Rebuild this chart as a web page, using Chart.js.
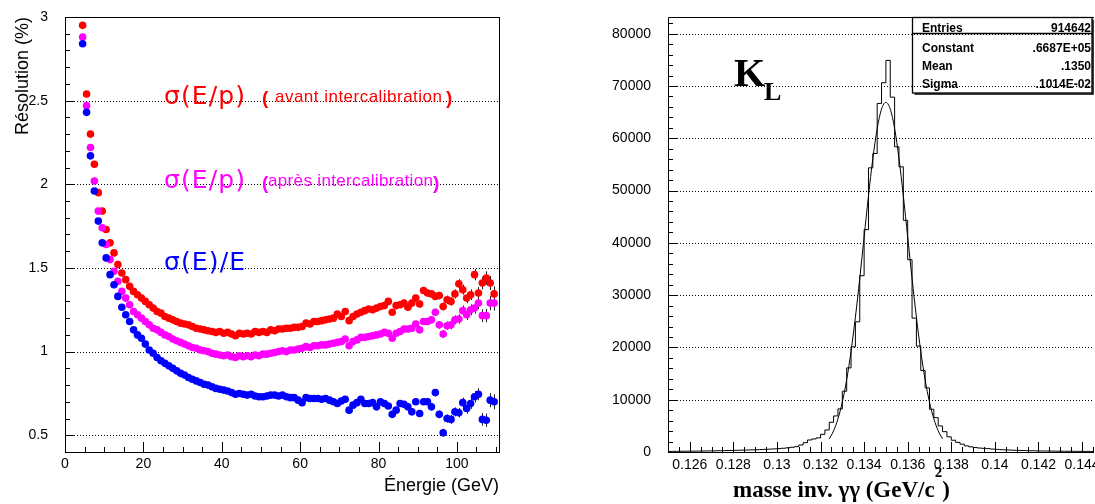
<!DOCTYPE html>
<html><head><meta charset="utf-8">
<script src="https://cdn.jsdelivr.net/npm/chart.js@4/dist/chart.umd.min.js"></script>
<style>
html,body{margin:0;padding:0;background:#fff;}
#wrap{position:relative;width:1095px;height:504px;overflow:hidden;background:#fff;}
canvas{position:absolute;top:0;}
#c1{left:0;} #c2{left:545px;}
</style></head><body>
<div id="wrap"><canvas id="c1" width="545" height="504"></canvas><canvas id="c2" width="550" height="504"></canvas></div>
<script>
// ---------- Left panel data ----------
const energies = [
 4.5,5.5,6.5,7.5,8.5,9.5,10.5,11.5,12.5,13.5,
 14.5,15.5,16.5,17.5,18.5,19.5,20.5,21.5,22.5,23.5,
 24.5,25.5,26.5,27.5,28.5,29.5,30.5,31.5,32.5,33.5,
 34.5,35.5,36.5,37.5,38.5,39.5,40.5,41.5,42.5,43.5,
 44.5,45.5,46.5,47.5,48.5,49.5,50.5,51.5,52.5,53.5,
 54.5,55.5,56.5,57.5,58.5,59.5,60.5,61.5,62.5,63.5,
 64.5,65.5,66.5,67.5,68.5,69.5,70.5,71.5,72.5,73.5,
 74.5,75.5,76.5,77.5,78.5,79.5,80.5,81.5,82.5,83.5,
 84.5,85.5,86.5,87.5,88.5,89.5,90.5,91.5,92.5,93.5,
 94.5,95.5,96.5,97.5,98.5,99.5,100.5,101.5,102.5,103.5,
 104.5,105.5,106.5,107.5,108.5,109.5];
const resAvant = [
 2.95,2.54,2.30,2.12,1.95,1.84,1.73,1.65,1.59,1.52,
 1.47,1.43,1.39,1.36,1.34,1.32,1.30,1.28,1.26,1.24,
 1.23,1.21,1.20,1.19,1.18,1.17,1.165,1.16,1.15,1.14,
 1.135,1.13,1.125,1.12,1.115,1.12,1.11,1.115,1.105,1.095,
 1.11,1.105,1.11,1.105,1.12,1.115,1.12,1.115,1.13,1.125,
 1.135,1.135,1.14,1.14,1.145,1.145,1.15,1.17,1.165,1.18,
 1.18,1.185,1.19,1.195,1.20,1.225,1.21,1.24,1.185,1.21,
 1.225,1.235,1.245,1.255,1.25,1.26,1.27,1.275,1.30,1.235,
 1.275,1.28,1.29,1.265,1.29,1.32,1.285,1.365,1.35,1.345,
 1.33,1.335,1.27,1.31,1.30,1.345,1.405,1.37,1.32,1.34,
 1.46,1.35,1.41,1.44,1.41,1.345];
const resApres = [
 2.88,2.47,2.22,2.02,1.84,1.74,1.64,1.55,1.48,1.42,
 1.36,1.32,1.28,1.24,1.22,1.20,1.18,1.16,1.14,1.13,
 1.115,1.10,1.09,1.075,1.065,1.055,1.045,1.035,1.025,1.02,
 1.01,1.005,1.00,0.99,0.985,0.98,0.975,0.98,0.97,0.965,
 0.975,0.97,0.975,0.97,0.98,0.975,0.985,0.985,0.99,0.995,
 1.00,1.005,1.00,1.01,1.01,1.015,1.02,1.03,1.025,1.035,
 1.035,1.04,1.04,1.045,1.05,1.055,1.06,1.075,1.035,1.06,
 1.07,1.085,1.085,1.09,1.095,1.10,1.105,1.115,1.11,1.08,
 1.11,1.12,1.135,1.135,1.14,1.165,1.13,1.18,1.18,1.19,
 1.235,1.16,1.105,1.155,1.16,1.19,1.195,1.245,1.22,1.25,
 1.26,1.29,1.215,1.215,1.29,1.29];
const resEnergie = [
 2.84,2.43,2.17,1.96,1.78,1.65,1.56,1.46,1.40,1.33,
 1.265,1.22,1.18,1.13,1.10,1.08,1.045,1.01,0.99,0.965,
 0.945,0.93,0.915,0.90,0.885,0.87,0.86,0.845,0.835,0.825,
 0.815,0.805,0.80,0.79,0.78,0.775,0.77,0.765,0.755,0.745,
 0.75,0.745,0.74,0.745,0.735,0.73,0.73,0.735,0.74,0.74,
 0.735,0.74,0.73,0.725,0.725,0.71,0.695,0.725,0.72,0.72,
 0.72,0.715,0.72,0.71,0.70,0.69,0.705,0.715,0.65,0.68,
 0.695,0.715,0.69,0.69,0.695,0.67,0.70,0.69,0.675,0.625,
 0.65,0.69,0.685,0.67,0.64,0.70,0.63,0.70,0.70,0.67,
 0.755,0.625,0.515,0.60,0.595,0.64,0.635,0.695,0.66,0.69,
 0.73,0.745,0.595,0.59,0.71,0.70];
const resError = [
 0.01,0.01,0.01,0.01,0.01,0.01,0.01,0.01,0.01,0.01,
 0.01,0.01,0.01,0.01,0.01,0.01,0.01,0.01,0.01,0.01,
 0.01,0.01,0.01,0.01,0.01,0.01,0.01,0.01,0.01,0.01,
 0.01,0.01,0.01,0.01,0.01,0.01,0.01,0.01,0.01,0.01,
 0.012,0.012,0.012,0.012,0.012,0.012,0.012,0.012,0.012,0.012,
 0.013,0.013,0.013,0.013,0.013,0.013,0.013,0.013,0.013,0.013,
 0.015,0.015,0.015,0.015,0.015,0.015,0.015,0.015,0.015,0.015,
 0.017,0.017,0.017,0.017,0.017,0.017,0.017,0.017,0.017,0.017,
 0.02,0.02,0.02,0.02,0.02,0.02,0.02,0.02,0.02,0.02,
 0.022,0.023,0.024,0.025,0.026,0.027,0.028,0.03,0.031,0.032,
 0.034,0.036,0.038,0.04,0.042,0.045];
const seriesLabels = ['σ(E/p)', 'σ(E/p)', 'σ(E)/E'];
const seriesNotes = ['avant intercalibration', 'après intercalibration', ''];
const seriesColors = ['#ff0000', '#ff00ff', '#0000ff'];

// ---------- Right panel data ----------
const histMin = 0.125, binWidth = 0.0002;
const histCounts = [
 110,125,130,145,150,165,170,185,200,210,
 225,245,255,280,295,320,335,365,385,415,
 440,475,510,555,600,655,720,800,900,1020,
 1340,1780,2300,2500,2700,3380,4210,5680,6900,8240,
 11620,16090,20110,24900,33720,42530,54350,57090,66670,70630,
 74900,67870,58370,54540,44310,36780,25610,20250,15580,12260,
 8180,6570,4980,3890,2900,2250,1850,1500,1170,990,
 850,760,700,640,560,500,450,400,370,330,
 300,280,260,240,220,200,190,180,170,160,
 150,145,140,130,125,120,115,110,105,100];
const fitMean = 0.1350, fitStep = 0.0002;
const fitValues = [2500,4060,6350,9560,13830,19250,25790,33200,41120,48980,56130,61860,65580,66870,
                   65580,61860,56130,48980,41120,33200,25790,19250,13830,9560,6350,4060,2500];
const rightYTicks = [0, 10000, 20000, 30000, 40000, 50000, 60000, 70000, 80000];
const statsRows = [['Entries','914642'],['Constant','.6687E+05'],['Mean','.1350'],['Sigma','.1014E-02']];
const xTitleRight = ['masse inv. γγ (GeV/c', '2', ')'];

Chart.defaults.font.family = "'Liberation Sans', Arial, sans-serif";
Chart.defaults.color = '#000';

function fixScale(w, h) {
  return function(s) {
    if (w !== null) s.width = w;
    if (h !== null) s.height = h;
    s.paddingLeft = 0; s.paddingRight = 0; s.paddingTop = 0; s.paddingBottom = 0;
  };
}

function gridAndFrame(ctx, a, yScale) {
  ctx.save();
  ctx.strokeStyle = '#000'; ctx.lineWidth = 1; ctx.setLineDash([1, 2]);
  yScale.ticks.forEach(t => {
    const py = Math.round(yScale.getPixelForValue(t.value)) + 0.5;
    ctx.beginPath(); ctx.moveTo(a.left, py); ctx.lineTo(a.right, py); ctx.stroke();
  });
  ctx.restore();
}

function drawTicks(ctx, a, scale, min, max, minor, major, horizontal) {
  ctx.save();
  ctx.strokeStyle = '#000'; ctx.lineWidth = 1;
  const n = Math.round((max - min) / minor);
  for (let i = 0; i <= n; i++) {
    const v = min + i * minor;
    const isMajor = Math.abs(v / major - Math.round(v / major)) < 1e-6;
    const len = isMajor ? 10 : 5;
    const p = Math.round(scale.getPixelForValue(v)) + 0.5;
    ctx.beginPath();
    if (horizontal) { ctx.moveTo(p, a.bottom); ctx.lineTo(p, a.bottom - len); }
    else { ctx.moveTo(a.left, p); ctx.lineTo(a.left + len, p); }
    ctx.stroke();
  }
  ctx.restore();
}

function fitText(ctx, text, x, y, width) {
  ctx.letterSpacing = '0px';
  const w = ctx.measureText(text).width;
  const sp = text.length > 1 ? (width - w) / (text.length - 1) : 0;
  ctx.letterSpacing = sp.toFixed(2) + 'px';
  ctx.fillText(text, x, y);
  ctx.letterSpacing = '0px';
}

const leftDecor = {
  id: 'leftDecor',
  beforeDatasetsDraw(chart) {
    const {ctx, chartArea: a, scales: {x, y}} = chart;
    gridAndFrame(ctx, a, y);
    ctx.save();
    ctx.beginPath(); ctx.rect(a.left, a.top, a.right - a.left, a.bottom - a.top); ctx.clip();
    ctx.strokeStyle = '#222'; ctx.lineWidth = 1;
    [resAvant, resApres, resEnergie].forEach(arr => {
      arr.forEach((v, i) => {
        const px = Math.round(x.getPixelForValue(energies[i])) + 0.5;
        ctx.beginPath();
        ctx.moveTo(px, y.getPixelForValue(v - resError[i]));
        ctx.lineTo(px, y.getPixelForValue(v + resError[i]));
        ctx.stroke();
      });
    });
    ctx.restore();
  },
  afterDatasetsDraw(chart) {
    const {ctx, chartArea: a, scales: {x, y}} = chart;
    ctx.save();
    ctx.strokeStyle = '#000'; ctx.lineWidth = 1;
    ctx.strokeRect(a.left + 0.5, a.top + 0.5, a.right - a.left - 1, a.bottom - a.top);
    ctx.restore();
    drawTicks(ctx, a, y, 0.4, 3.0, 0.1, 0.5, false);
    drawTicks(ctx, a, x, 0, 110, 5, 20, true);

    ctx.save();
    ctx.textBaseline = 'alphabetic'; ctx.textAlign = 'left';
    const baselines = [103.5, 188, 269.5];
    const parenBase = [104, 189];
    const noteWidths = [167, 165];
    for (let k = 0; k < 3; k++) {
      ctx.fillStyle = seriesColors[k];
      ctx.font = "25px 'DejaVu Sans'";
      fitText(ctx, seriesLabels[k], 164, baselines[k], 81);
      if (seriesNotes[k]) {
        ctx.font = "bold 19px 'Liberation Sans'";
        ctx.fillText('(', 262, parenBase[k]);
        const tx = k === 0 ? 275 : 268;
        ctx.font = "17px 'Liberation Sans'";
        fitText(ctx, seriesNotes[k], tx, baselines[k] - 2, noteWidths[k]);
        ctx.font = "bold 19px 'Liberation Sans'";
        ctx.fillText(')', k === 0 ? 446 : 433, parenBase[k]);
      }
    }
    ctx.fillStyle = '#000';
    ctx.font = "18px 'Liberation Sans'";
    ctx.textAlign = 'right';
    ctx.fillText('Énergie (GeV)', 499, 491);
    ctx.translate(28, 17);
    ctx.rotate(-Math.PI / 2);
    ctx.textAlign = 'right';
    ctx.fillText('Résolution (%)', 0, 0);
    ctx.restore();
  }
};

const rightDecor = {
  id: 'rightDecor',
  beforeDatasetsDraw(chart) {
    const {ctx, chartArea: a, scales: {y}} = chart;
    gridAndFrame(ctx, a, y);
  },
  afterDatasetsDraw(chart) {
    const {ctx, chartArea: a, scales: {x, y}} = chart;
    ctx.save();
    ctx.strokeStyle = '#000'; ctx.lineWidth = 1;
    ctx.beginPath();
    ctx.moveTo(a.left + 0.5, a.bottom); ctx.lineTo(a.left + 0.5, a.top + 0.5); ctx.lineTo(a.right, a.top + 0.5);
    ctx.moveTo(a.left, a.bottom + 0.5); ctx.lineTo(a.right, a.bottom + 0.5);
    ctx.stroke();
    ctx.restore();
    drawTicks(ctx, a, y, 0, 82000, 2000, 10000, false);
    drawTicks(ctx, a, x, 0.125, 0.1445, 0.0005, 0.002, true);

    ctx.save();
    ctx.fillStyle = '#000';
    ctx.textAlign = 'left'; ctx.textBaseline = 'alphabetic';
    ctx.font = "bold 40px 'Liberation Serif'";
    ctx.fillText('K', 189, 86);
    ctx.font = "bold 26px 'Liberation Serif'";
    ctx.fillText('L', 219, 100);
    ctx.font = "bold 23px 'Liberation Serif'";
    let tx = 188;
    ctx.fillText(xTitleRight[0], tx, 497);
    tx += ctx.measureText(xTitleRight[0]).width;
    ctx.font = "bold 15px 'Liberation Serif'";
    ctx.fillText(xTitleRight[1], tx, 477);
    tx += ctx.measureText(xTitleRight[1]).width;
    ctx.font = "bold 23px 'Liberation Serif'";
    ctx.fillText(xTitleRight[2], tx, 497);

    const bx = 367.5, by = 17.5, bw = 179.5, bh = 75.5;
    ctx.strokeStyle = '#000'; ctx.lineWidth = 1.3;
    ctx.strokeRect(bx, by, bw, bh);
    ctx.lineWidth = 1.5;
    ctx.beginPath(); ctx.moveTo(bx + bw + 1, by + 2); ctx.lineTo(bx + bw + 1, by + bh + 1); ctx.lineTo(bx + 2, by + bh + 1); ctx.stroke();
    ctx.lineWidth = 1.3;
    ctx.beginPath(); ctx.moveTo(bx, 33.5); ctx.lineTo(bx + bw, 33.5); ctx.stroke();
    ctx.font = "bold 12px 'Liberation Sans'";
    const rowBase = [31.5, 51.5, 70, 87.5];
    statsRows.forEach((r, i) => {
      ctx.textAlign = 'left'; ctx.fillText(r[0], 377, rowBase[i]);
      ctx.textAlign = 'right'; ctx.fillText(r[1], 546, rowBase[i]);
    });
    ctx.restore();
  }
};

new Chart(document.getElementById('c1'), {
  type: 'scatter',
  data: {
    datasets: [
      {data: energies.map((e, i) => ({x: e, y: resEnergie[i]})), backgroundColor: seriesColors[2]},
      {data: energies.map((e, i) => ({x: e, y: resApres[i]})), backgroundColor: seriesColors[1]},
      {data: energies.map((e, i) => ({x: e, y: resAvant[i]})), backgroundColor: seriesColors[0]}
    ].map(d => Object.assign(d, {pointRadius: 3.8, pointBorderWidth: 0, borderWidth: 0, pointHoverRadius: 3.8}))
  },
  options: {
    responsive: false, animation: false, events: [],
    layout: {padding: {left: 0, right: 45, top: 17, bottom: 0}},
    plugins: {legend: {display: false}, tooltip: {enabled: false}},
    scales: {
      x: {type: 'linear', min: 0, max: 111,
          grid: {display: false, drawTicks: false}, border: {display: false},
          ticks: {stepSize: 20, includeBounds: false, padding: 4, font: {size: 14}, maxRotation: 0,
                  callback: v => String(v)},
          afterFit: fixScale(null, 52)},
      y: {type: 'linear', min: 0.4, max: 3,
          grid: {display: false, drawTicks: false}, border: {display: false},
          ticks: {stepSize: 0.5, includeBounds: false, padding: 17, font: {size: 14},
                  callback: v => String(+v.toFixed(2))},
          afterFit: fixScale(65, null)}
    }
  },
  plugins: [leftDecor]
});

const histPoints = histCounts.map((c, i) => ({x: +(histMin + i * binWidth).toFixed(5), y: c}));
histPoints.push({x: +(histMin + histCounts.length * binWidth).toFixed(5), y: histCounts[histCounts.length - 1]});
const fitPoints = fitValues.map((v, i) => ({x: +(fitMean + (i - (fitValues.length - 1) / 2) * fitStep).toFixed(5), y: v}));

new Chart(document.getElementById('c2'), {
  type: 'line',
  data: {
    datasets: [
      {data: fitPoints, borderColor: '#000', borderWidth: 1, pointRadius: 0, tension: 0.4, cubicInterpolationMode: 'monotone', fill: false},
      {data: histPoints, borderColor: '#000', borderWidth: 1, pointRadius: 0, stepped: true, fill: false}
    ]
  },
  options: {
    responsive: false, animation: false, events: [],
    layout: {padding: {left: 0, right: 1, top: 17, bottom: 0}},
    plugins: {legend: {display: false}, tooltip: {enabled: false}},
    scales: {
      x: {type: 'linear', min: 0.125, max: 0.14455,
          grid: {display: false, drawTicks: false}, border: {display: false},
          ticks: {stepSize: 0.002, includeBounds: false, padding: 5, font: {size: 14}, maxRotation: 0, autoSkip: false,
                  callback: v => String(+v.toFixed(4))},
          afterFit: fixScale(null, 52)},
      y: {type: 'linear', min: 0, max: 83200,
          grid: {display: false, drawTicks: false}, border: {display: false},
          ticks: {padding: 17, font: {size: 14}, autoSkip: false,
                  callback: v => String(v)},
          afterBuildTicks: s => { s.ticks = rightYTicks.map(v => ({value: v})); },
          afterFit: fixScale(123, null)}
    }
  },
  plugins: [rightDecor]
});
</script>
</body></html>
